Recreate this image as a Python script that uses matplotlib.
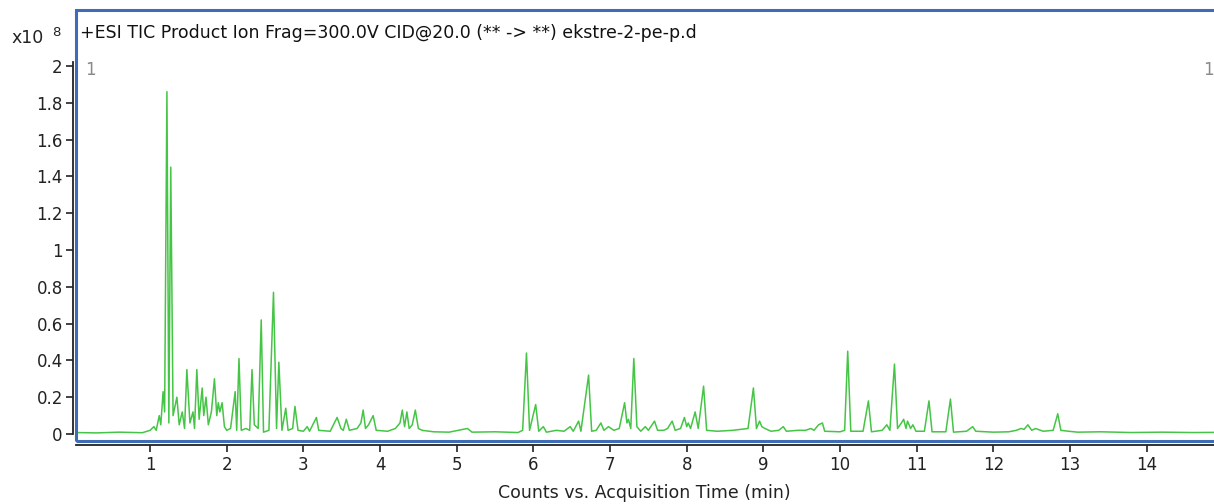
import matplotlib
matplotlib.use("Agg")
import matplotlib.pyplot as plt
from matplotlib.patches import Rectangle

# chromatogram trace (time in min, counts in 1e8)
acq_time = [
    0.03, 0.30, 0.60, 0.90, 1.00, 1.05, 1.08, 1.12, 1.14, 1.17, 1.19, 1.22,
    1.245, 1.27, 1.30, 1.35, 1.38, 1.42, 1.45, 1.48, 1.52, 1.56, 1.58, 1.61,
    1.64, 1.68, 1.70, 1.73, 1.76, 1.80, 1.84, 1.87, 1.89, 1.91, 1.94, 1.97,
    2.00, 2.05, 2.11, 2.13, 2.16, 2.19, 2.25, 2.30, 2.33, 2.36, 2.41, 2.45,
    2.48, 2.55, 2.61, 2.65, 2.68, 2.72, 2.77, 2.80, 2.86, 2.89, 2.93, 3.00,
    3.05, 3.08, 3.17, 3.20, 3.35, 3.44, 3.49, 3.52, 3.56, 3.60, 3.70, 3.75,
    3.78, 3.81, 3.85, 3.91, 3.95, 4.10, 4.20, 4.26, 4.29, 4.32, 4.35, 4.38,
    4.42, 4.46, 4.50, 4.55, 4.70, 4.90, 5.14, 5.20, 5.50, 5.80, 5.86, 5.91,
    5.95, 6.03, 6.07, 6.13, 6.17, 6.30, 6.40, 6.48, 6.52, 6.59, 6.62, 6.72,
    6.76, 6.82, 6.88, 6.92, 6.98, 7.05, 7.12, 7.19, 7.22, 7.24, 7.27, 7.31,
    7.35, 7.40, 7.46, 7.50, 7.58, 7.62, 7.70, 7.75, 7.81, 7.85, 7.92, 7.97,
    8.00, 8.02, 8.05, 8.11, 8.15, 8.22, 8.26, 8.40, 8.60, 8.80, 8.87, 8.91,
    8.95, 8.98, 9.02, 9.10, 9.20, 9.26, 9.30, 9.45, 9.55, 9.62, 9.66, 9.72,
    9.77, 9.80, 10.00, 10.06, 10.10, 10.14, 10.30, 10.37, 10.41, 10.55, 10.61,
    10.65, 10.71, 10.75, 10.80, 10.83, 10.86, 10.88, 10.92, 10.95, 10.99,
    11.10, 11.16, 11.20, 11.38, 11.44, 11.48, 11.65, 11.73, 11.77, 12.00,
    12.20, 12.30, 12.36, 12.40, 12.45, 12.50, 12.55, 12.65, 12.78, 12.84,
    12.88, 12.98, 13.10, 13.40, 13.80, 14.20, 14.60, 14.95,
]
counts = [
    0.008, 0.006, 0.010, 0.007, 0.020, 0.040, 0.020, 0.100, 0.050, 0.230, 0.120, 1.860,
    0.060, 1.450, 0.100, 0.200, 0.050, 0.120, 0.030, 0.350, 0.060, 0.120, 0.030, 0.350,
    0.080, 0.250, 0.100, 0.200, 0.050, 0.120, 0.300, 0.100, 0.170, 0.120, 0.170, 0.040,
    0.020, 0.030, 0.230, 0.020, 0.410, 0.020, 0.030, 0.020, 0.350, 0.050, 0.030, 0.620,
    0.010, 0.020, 0.770, 0.030, 0.390, 0.020, 0.140, 0.020, 0.030, 0.150, 0.020, 0.015,
    0.040, 0.015, 0.090, 0.020, 0.015, 0.090, 0.030, 0.020, 0.080, 0.020, 0.030, 0.060,
    0.130, 0.030, 0.050, 0.100, 0.020, 0.015, 0.030, 0.060, 0.130, 0.040, 0.120, 0.030,
    0.050, 0.130, 0.030, 0.020, 0.012, 0.010, 0.030, 0.010, 0.012, 0.008, 0.020, 0.440,
    0.020, 0.160, 0.015, 0.040, 0.010, 0.020, 0.015, 0.040, 0.015, 0.070, 0.015, 0.320,
    0.015, 0.020, 0.060, 0.020, 0.040, 0.020, 0.030, 0.170, 0.060, 0.080, 0.030, 0.410,
    0.040, 0.015, 0.040, 0.020, 0.070, 0.020, 0.020, 0.030, 0.070, 0.020, 0.030, 0.090,
    0.040, 0.060, 0.030, 0.120, 0.030, 0.260, 0.020, 0.015, 0.020, 0.030, 0.250, 0.030,
    0.070, 0.040, 0.030, 0.015, 0.020, 0.040, 0.015, 0.020, 0.020, 0.030, 0.020, 0.050,
    0.060, 0.015, 0.012, 0.020, 0.450, 0.015, 0.015, 0.180, 0.012, 0.020, 0.050,
    0.020, 0.380, 0.030, 0.060, 0.080, 0.030, 0.070, 0.030, 0.050, 0.015,
    0.015, 0.180, 0.012, 0.012, 0.190, 0.010, 0.015, 0.040, 0.015, 0.010,
    0.012, 0.020, 0.030, 0.025, 0.050, 0.020, 0.030, 0.015, 0.020, 0.110,
    0.020, 0.015, 0.010, 0.012, 0.008, 0.010, 0.008, 0.009,
]
y_ticks = [0, 0.2, 0.4, 0.6, 0.8, 1, 1.2, 1.4, 1.6, 1.8, 2]
x_ticks = list(range(1, 15))
title = "+ESI TIC Product Ion Frag=300.0V CID@20.0 (** -> **) ekstre-2-pe-p.d"

plt.rcParams['font.family'] = ['DejaVu Sans']

W, H = 1214, 504
fig = plt.figure(figsize=(W / 100, H / 100), dpi=100)
ax = fig.add_axes([76 / W, 1 - 441 / H, (1218 - 76) / W, (441 - 10) / H])

ax.plot(acq_time, counts, color='#45c545', lw=1.1)

ax.set_xlim(0.034, 14.93)
ax.set_ylim(-0.038, 2.304)

for side in ['top', 'right']:
    ax.spines[side].set_visible(False)
ax.spines['left'].set_position(('outward', 2.5))
ax.spines['left'].set_bounds(0, 2.02)
ax.spines['bottom'].set_position(('outward', 3))
for side in ['left', 'bottom']:
    ax.spines[side].set_linewidth(1.3)
    ax.spines[side].set_color('#222222')

ax.set_yticks(y_ticks)
ax.set_yticklabels(['%g' % v for v in y_ticks])
ax.set_xticks(x_ticks)
ax.tick_params(axis='both', direction='out', length=5, width=1.2,
               color='#222222', labelsize=12, labelcolor='#222222')
ax.tick_params(axis='x', pad=3)
ax.tick_params(axis='y', pad=2)

frame = Rectangle((0, 0), 1, 1, transform=ax.transAxes, fill=False,
                  edgecolor='#3f6db5', lw=2.2, clip_on=False, zorder=5)
ax.add_patch(frame)

fig.text(80 / W, 1 - 33 / H, title, ha='left', va='center', fontsize=12.5, color='#111111')
fig.text(11 / W, 1 - 38 / H, "x10", ha='left', va='center', fontsize=12.5, color='#222222')
fig.text(52 / W, 1 - 33 / H, "8", ha='left', va='center', fontsize=9.5, color='#222222')
fig.text(85 / W, 1 - 70 / H, "1", ha='left', va='center', fontsize=12, color='#8a8a8a')
fig.text(1203 / W, 1 - 70 / H, "1", ha='left', va='center', fontsize=12, color='#8a8a8a')
fig.text(644 / W, 1 - 493 / H, "Counts vs. Acquisition Time (min)", ha='center',
         va='center', fontsize=12.5, color='#222222')

fig.savefig('out.png', dpi=100)
